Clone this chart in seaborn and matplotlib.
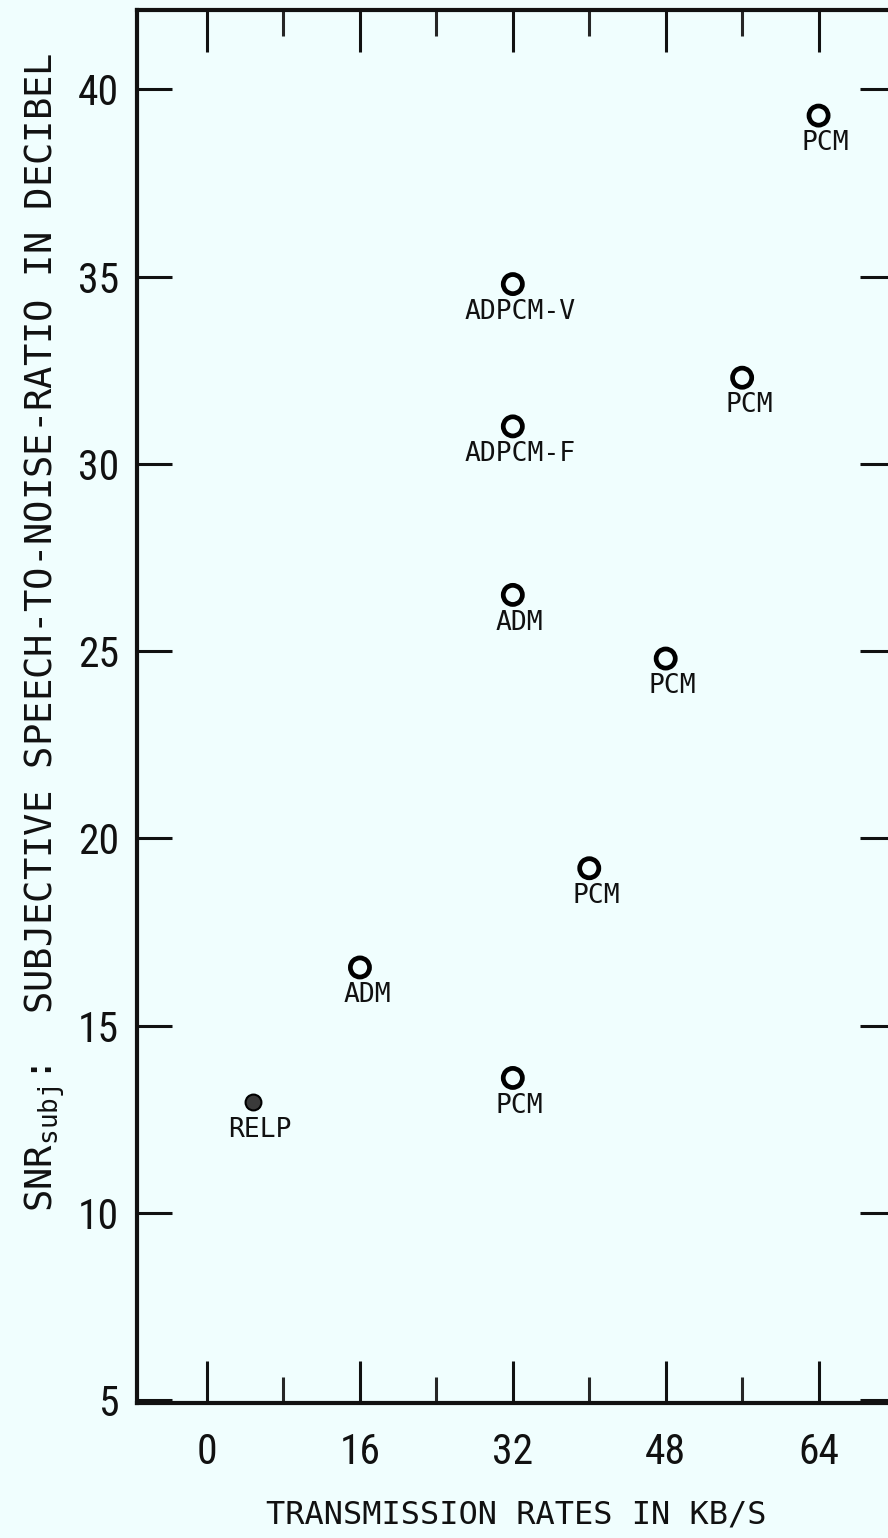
import numpy as np
import pandas as pd
import matplotlib
matplotlib.use('Agg')
import matplotlib.pyplot as plt
import seaborn as sns
from matplotlib import font_manager

# data
rates = [64, 32, 56, 32, 32, 48, 40, 16, 32, 4.8]
snr = [39.3, 34.8, 32.3, 31.0, 26.5, 24.8, 19.2, 16.55, 13.6, 12.95]
codecs = ['PCM', 'ADPCM-V', 'PCM', 'ADPCM-F', 'ADM', 'PCM', 'PCM', 'ADM', 'PCM', 'RELP']
filled = [False, False, False, False, False, False, False, False, False, True]

x_major = [0, 16, 32, 48, 64]
x_minor = [8, 24, 40, 56]
y_major = [5, 10, 15, 20, 25, 30, 35, 40]

df = pd.DataFrame({'rate': rates, 'snr': snr, 'codec': codecs, 'filled': filled})

sns.set_theme(style='ticks')
bg = '#f0fefe'
plt.rcParams['font.family'] = ['DejaVu Sans Mono', 'DejaVu Sans']
plt.rcParams['mathtext.default'] = 'regular'

names = {f.name for f in font_manager.fontManager.ttflist}
tick_family = 'Roboto Condensed' if 'Roboto Condensed' in names else 'DejaVu Sans'

fig = plt.figure(figsize=(8.88, 15.38), dpi=100, facecolor=bg)
ax = fig.add_axes([0.1543, 0.0878, 0.8536, 0.9057])
ax.set_facecolor(bg)

sns.scatterplot(data=df[~df['filled']], x='rate', y='snr', s=190, marker='o',
                facecolor='none', edgecolor='black', linewidth=3.4, ax=ax, zorder=3)
sns.scatterplot(data=df[df['filled']], x='rate', y='snr', s=130, marker='o',
                color='#3a3a3a', edgecolor='black', linewidth=1.5, ax=ax, zorder=3)

for _, r in df.iterrows():
    ax.annotate(r['codec'], (r['rate'], r['snr']), xytext=(5, -20),
                textcoords='offset points', ha='center', va='center',
                fontsize=19, color='#111111')

ax.set_xlim(-7.33, 72.0)
ax.set_ylim(4.92, 42.12)
ax.set_xticks(x_major)
ax.set_xticks(x_minor, minor=True)
ax.set_yticks(y_major)
ax.set_xticklabels([str(v) for v in x_major], family=tick_family, fontsize=30, fontstretch='condensed')
ax.set_yticklabels([str(v) for v in y_major], family=tick_family, fontsize=30, fontstretch='condensed')

ax.tick_params(axis='x', which='major', direction='in', length=30, width=2.2,
               top=True, bottom=True, pad=21, colors='#111111')
ax.tick_params(axis='x', which='minor', direction='in', length=19, width=2.2,
               top=True, bottom=True)
ax.tick_params(axis='y', which='major', direction='in', length=25, width=2.2,
               left=True, right=True, pad=13, colors='#111111')
ax.tick_params(axis='y', which='minor', left=False, right=False)

for side in ['left', 'bottom', 'top', 'right']:
    ax.spines[side].set_linewidth(3)
    ax.spines[side].set_color('#111111')

ax.set_xlabel('TRANSMISSION RATES IN KB/S', fontsize=23, labelpad=19, color='#111111')
ax.set_ylabel('SNR$_{subj}$:  SUBJECTIVE SPEECH-TO-NOISE-RATIO IN DECIBEL',
              fontsize=26.7, color='#111111')
ax.yaxis.set_label_coords(-0.093, 0.553)

fig.savefig('out.png', dpi=100, facecolor=bg)
